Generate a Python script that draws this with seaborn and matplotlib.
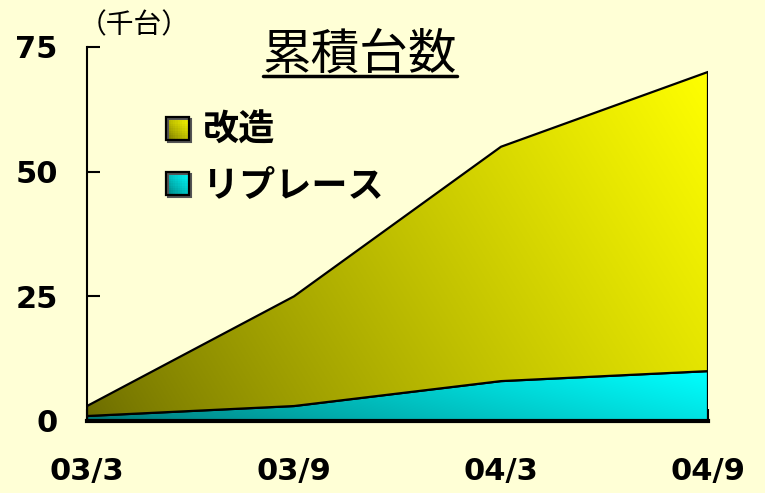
import numpy as np
import pandas as pd
import matplotlib
matplotlib.use("Agg")
import matplotlib.pyplot as plt
import seaborn as sns
from matplotlib.legend_handler import HandlerBase
from matplotlib.patches import Rectangle
from matplotlib.lines import Line2D

# ---- data ----
periods = ["03/3", "03/9", "04/3", "04/9"]
replace_vals = [1, 3, 8, 10]        # リプレース
modify_vals = [2, 22, 47, 60]       # 改造 (stacked on top)
series_names = ["改造", "リプレース"]
yticks = [0, 25, 50, 75]
unit_label = "（千台）"
title_text = "累積台数"

BG = "#FFFFD6"
sns.set_theme(style="ticks", rc={"figure.facecolor": BG, "axes.facecolor": BG,
                                 "savefig.facecolor": BG, "text.color": "black",
                                 "axes.edgecolor": "black", "xtick.color": "black",
                                 "ytick.color": "black", "axes.labelcolor": "black"})
plt.rcParams["font.family"] = ["Noto Sans CJK JP", "DejaVu Sans"]

df = pd.DataFrame({"period": periods, "replace": replace_vals, "modify": modify_vals})
df["x"] = np.arange(len(df))
df["top"] = df["replace"] + df["modify"]

fig = plt.figure(figsize=(7.65, 4.93), dpi=100)
ax = fig.add_axes([87/765, 1-421/493, (708-87)/765, (421-47)/493])
ax.set_facecolor(BG)

yellow_dark = np.array([0.42, 0.42, 0.0])
yellow_light = np.array([1.0, 1.0, 0.0])
cyan_dark = np.array([0.0, 0.45, 0.45])
cyan_light = np.array([0.0, 1.0, 1.0])


def grad_image(dark, light, n=200):
    u = np.linspace(0, 1, n)[None, :]
    v = np.linspace(0, 1, n)[:, None]
    t = np.clip(0.75 * u + 0.25 * v, 0, 1) ** 0.8
    return dark[None, None, :] + (light - dark)[None, None, :] * t[:, :, None]


def grad_fill(y0, y1, dark, light, z):
    coll = ax.fill_between(df["x"], y0, y1, facecolor="none", edgecolor="none")
    path = coll.get_paths()[0]
    lo, hi = float(np.min(y0)), float(np.max(y1))
    im = ax.imshow(grad_image(dark, light), extent=[df["x"].min(), df["x"].max(), lo, hi],
                   origin="lower", aspect="auto", zorder=z, interpolation="bilinear")
    im.set_clip_path(path, ax.transData)
    ax.fill_between(df["x"], y0, y1, facecolor="none", edgecolor="black",
                    linewidth=1.6, zorder=z + 0.5)


grad_fill(np.zeros(len(df)), df["replace"].values, cyan_dark, cyan_light, 2)
grad_fill(df["replace"].values, df["top"].values, yellow_dark, yellow_light, 3)

ax.set_xlim(0, 3)
ax.set_ylim(0, 75)
ax.set_xticks(df["x"])
ax.set_xticklabels(periods)
ax.set_yticks(yticks)
ax.set_yticklabels([str(v) for v in yticks])
sns.despine(ax=ax, top=True, right=True)
ax.spines["left"].set_linewidth(1.5)
ax.spines["bottom"].set_linewidth(3)
ax.spines["left"].set_zorder(5)
ax.spines["bottom"].set_zorder(5)
ax.tick_params(axis="y", direction="in", length=9, width=1.5, pad=21, labelsize=22,
               colors="black")
ax.tick_params(axis="x", direction="in", length=9, width=1.5, pad=26, labelsize=22,
               colors="black")
for lab in ax.get_xticklabels() + ax.get_yticklabels():
    lab.set_fontweight("bold")
    lab.set_family(["DejaVu Sans"])
ax.set_xlabel("")
ax.set_ylabel("")
for t in ax.xaxis.get_major_ticks():
    t.tick1line.set_zorder(6)


class GradHandler(HandlerBase):
    def __init__(self, dark, light):
        super().__init__()
        self.dark, self.light = dark, light

    def create_artists(self, legend, orig_handle, xdescent, ydescent, width, height,
                       fontsize, trans):
        arts = []
        n = 10
        s = height
        x0, y0 = -xdescent, -ydescent
        for i in range(n):
            for j in range(n):
                t = np.clip(0.5 * (i + 0.5) / n + 0.5 * (j + 0.5) / n, 0, 1) ** 0.8
                c = self.dark + (self.light - self.dark) * t
                arts.append(Rectangle((x0 + i * s / n, y0 + j * s / n), s / n * 1.02, s / n * 1.02,
                                      facecolor=c, edgecolor="none", transform=trans))
        arts.append(Rectangle((x0 + 1.5, y0 - 1.5), s, s, facecolor="none",
                              edgecolor="#555555", linewidth=1.5, transform=trans))
        arts.append(Rectangle((x0, y0), s, s, facecolor="none", edgecolor="black",
                              linewidth=1.6, transform=trans))
        return arts


h_mod = Rectangle((0, 0), 1, 1)
h_rep = Rectangle((0, 0), 1, 1)
leg = ax.legend([h_mod, h_rep], series_names,
                handler_map={h_mod: GradHandler(yellow_dark, yellow_light),
                             h_rep: GradHandler(cyan_dark, cyan_light)},
                loc="upper left", bbox_to_anchor=(166/765, 1-112/493),
                bbox_transform=fig.transFigure, frameon=False,
                prop={"family": ["Noto Sans CJK JP", "DejaVu Sans"], "weight": "bold", "size": 26},
                handlelength=0.62, handleheight=0.62, handletextpad=0.4,
                labelspacing=0.5, borderpad=0, borderaxespad=0)
leg.set_zorder(10)
for txt in leg.get_texts():
    txt.set_color("black")

fig.text(79/765, 1-33/493, unit_label, fontsize=20, ha="left", va="baseline", color="black")
title = fig.text(360/765, 1-69/493, title_text, fontsize=35, ha="center", va="baseline",
                 color="black")

fig.canvas.draw()
bb = title.get_window_extent()
uy = 1 - 76/493
fig.add_artist(Line2D([bb.x0/765, bb.x1/765], [uy, uy], transform=fig.transFigure,
                      color="black", linewidth=2.5))

fig.savefig("out.png", dpi=100, facecolor=BG)
